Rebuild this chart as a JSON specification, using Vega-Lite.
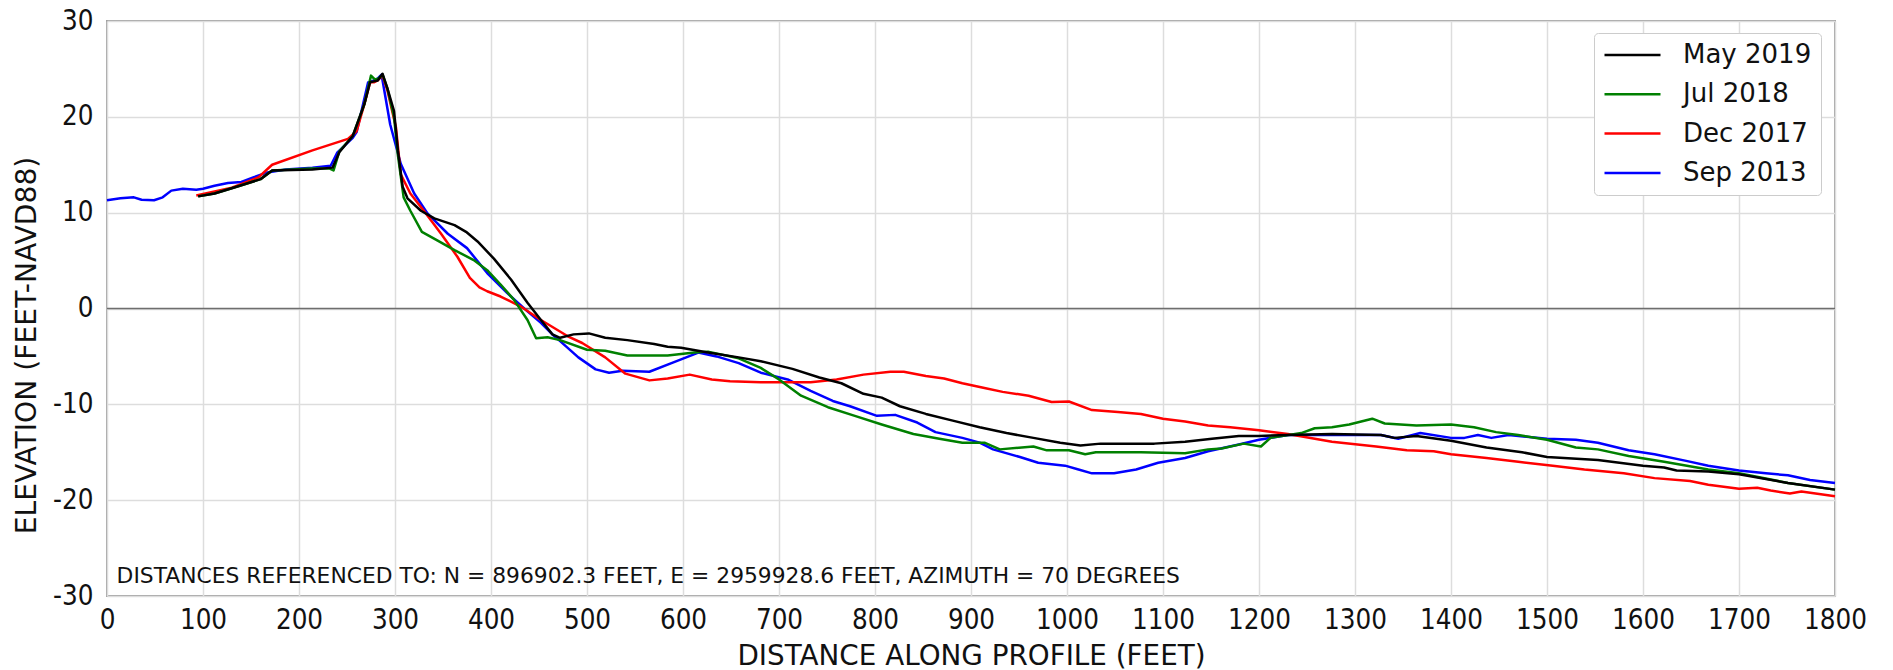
{
  "$schema": "https://vega.github.io/schema/vega-lite/v6.json",
  "autosize": {"type": "none"},
  "padding": {"left": 107, "top": 21, "right": 58, "bottom": 74},
  "width": 1728,
  "height": 575,
  "background": "white",
  "title": {"text": "Profile View", "font": "DejaVu Sans", "fontSize": 22, "fontWeight": "bold", "color": "#000000", "anchor": "middle", "frame": "group", "baseline": "alphabetic", "offset": 16},
  "config": {
    "view": {"stroke": "#a0a0a0", "strokeWidth": 2},
    "axis": {
      "grid": true, "gridColor": "#dddddd", "gridWidth": 1.5,
      "domain": false, "ticks": false,
      "labelFont": "DejaVu Sans Condensed, Liberation Sans, sans-serif", "labelFontSize": 27.5, "labelColor": "#111111",
      "titleFont": "DejaVu Sans", "titleFontSize": 27.8, "titleFontWeight": "normal", "titleColor": "#111111",
      "labelFlush": false, "labelOverlap": false
    },
    "legend": {
      "orient": "none", "legendX": 1487, "legendY": 12, "title": null,
      "labelFont": "DejaVu Sans", "labelFontSize": 26, "labelColor": "#111111",
      "symbolType": "stroke", "symbolSize": 3136, "symbolStrokeWidth": 2.5,
      "clipHeight": 26,
      "padding": 9, "rowPadding": 13.3, "labelOffset": 21,
      "strokeColor": "#cccccc", "fillColor": "#ffffff", "cornerRadius": 4, "labelLimit": 400
    }
  },
  "layer": [
    {
      "data": {"values": [{"e": 0}]},
      "mark": {"type": "rule", "color": "#6e6e6e", "strokeWidth": 1.5},
      "encoding": {"y": {"field": "e", "type": "quantitative", "scale": {"domain": [-30, 30], "nice": false}}}
    },
    {
      "data": {"values": [
        {"s":"Sep 2013","d":0,"e":11.3},{"s":"Sep 2013","d":14,"e":11.5},{"s":"Sep 2013","d":28,"e":11.6},{"s":"Sep 2013","d":36,"e":11.35},{"s":"Sep 2013","d":49,"e":11.3},{"s":"Sep 2013","d":58,"e":11.6},{"s":"Sep 2013","d":67,"e":12.3},{"s":"Sep 2013","d":79,"e":12.5},{"s":"Sep 2013","d":93,"e":12.4},{"s":"Sep 2013","d":100,"e":12.5},{"s":"Sep 2013","d":112,"e":12.8},{"s":"Sep 2013","d":126,"e":13.1},{"s":"Sep 2013","d":140,"e":13.2},{"s":"Sep 2013","d":153,"e":13.7},{"s":"Sep 2013","d":167,"e":14.2},{"s":"Sep 2013","d":186,"e":14.5},{"s":"Sep 2013","d":214,"e":14.7},{"s":"Sep 2013","d":233,"e":14.9},{"s":"Sep 2013","d":240,"e":16.3},{"s":"Sep 2013","d":256,"e":17.8},{"s":"Sep 2013","d":260,"e":18.4},{"s":"Sep 2013","d":272,"e":23.6},{"s":"Sep 2013","d":281,"e":23.9},{"s":"Sep 2013","d":286,"e":24.4},{"s":"Sep 2013","d":295,"e":19.2},{"s":"Sep 2013","d":306,"e":15.1},{"s":"Sep 2013","d":320,"e":12.0},{"s":"Sep 2013","d":334,"e":9.9},{"s":"Sep 2013","d":355,"e":7.8},{"s":"Sep 2013","d":375,"e":6.3},{"s":"Sep 2013","d":396,"e":3.7},{"s":"Sep 2013","d":417,"e":1.6},{"s":"Sep 2013","d":438,"e":-0.3},{"s":"Sep 2013","d":452,"e":-1.5},{"s":"Sep 2013","d":466,"e":-2.9},{"s":"Sep 2013","d":472,"e":-3.4},{"s":"Sep 2013","d":491,"e":-5.1},{"s":"Sep 2013","d":509,"e":-6.35},{"s":"Sep 2013","d":523,"e":-6.7},{"s":"Sep 2013","d":537,"e":-6.5},{"s":"Sep 2013","d":565,"e":-6.6},{"s":"Sep 2013","d":588,"e":-5.7},{"s":"Sep 2013","d":616,"e":-4.6},{"s":"Sep 2013","d":635,"e":-5.0},{"s":"Sep 2013","d":658,"e":-5.7},{"s":"Sep 2013","d":681,"e":-6.7},{"s":"Sep 2013","d":709,"e":-7.4},{"s":"Sep 2013","d":733,"e":-8.6},{"s":"Sep 2013","d":756,"e":-9.65},{"s":"Sep 2013","d":774,"e":-10.2},{"s":"Sep 2013","d":802,"e":-11.2},{"s":"Sep 2013","d":821,"e":-11.1},{"s":"Sep 2013","d":844,"e":-11.9},{"s":"Sep 2013","d":863,"e":-12.9},{"s":"Sep 2013","d":891,"e":-13.5},{"s":"Sep 2013","d":909,"e":-14.0},{"s":"Sep 2013","d":923,"e":-14.7},{"s":"Sep 2013","d":951,"e":-15.5},{"s":"Sep 2013","d":970,"e":-16.1},{"s":"Sep 2013","d":998,"e":-16.4},{"s":"Sep 2013","d":1012,"e":-16.8},{"s":"Sep 2013","d":1026,"e":-17.2},{"s":"Sep 2013","d":1049,"e":-17.2},{"s":"Sep 2013","d":1072,"e":-16.8},{"s":"Sep 2013","d":1095,"e":-16.1},{"s":"Sep 2013","d":1123,"e":-15.6},{"s":"Sep 2013","d":1147,"e":-14.9},{"s":"Sep 2013","d":1179,"e":-14.2},{"s":"Sep 2013","d":1200,"e":-13.7},{"s":"Sep 2013","d":1230,"e":-13.2},{"s":"Sep 2013","d":1276,"e":-13.2},{"s":"Sep 2013","d":1327,"e":-13.2},{"s":"Sep 2013","d":1345,"e":-13.6},{"s":"Sep 2013","d":1368,"e":-13.0},{"s":"Sep 2013","d":1400,"e":-13.5},{"s":"Sep 2013","d":1414,"e":-13.5},{"s":"Sep 2013","d":1428,"e":-13.2},{"s":"Sep 2013","d":1442,"e":-13.5},{"s":"Sep 2013","d":1460,"e":-13.2},{"s":"Sep 2013","d":1500,"e":-13.6},{"s":"Sep 2013","d":1530,"e":-13.7},{"s":"Sep 2013","d":1553,"e":-14.0},{"s":"Sep 2013","d":1585,"e":-14.8},{"s":"Sep 2013","d":1612,"e":-15.2},{"s":"Sep 2013","d":1645,"e":-15.9},{"s":"Sep 2013","d":1668,"e":-16.4},{"s":"Sep 2013","d":1700,"e":-16.9},{"s":"Sep 2013","d":1728,"e":-17.2},{"s":"Sep 2013","d":1751,"e":-17.4},{"s":"Sep 2013","d":1774,"e":-17.9},{"s":"Sep 2013","d":1800,"e":-18.2},

        {"s":"Dec 2017","d":93,"e":11.8},{"s":"Dec 2017","d":112,"e":12.2},{"s":"Dec 2017","d":130,"e":12.6},{"s":"Dec 2017","d":158,"e":13.7},{"s":"Dec 2017","d":172,"e":15.0},{"s":"Dec 2017","d":214,"e":16.5},{"s":"Dec 2017","d":251,"e":17.7},{"s":"Dec 2017","d":260,"e":18.5},{"s":"Dec 2017","d":268,"e":21.3},{"s":"Dec 2017","d":274,"e":23.6},{"s":"Dec 2017","d":278,"e":23.6},{"s":"Dec 2017","d":282,"e":23.8},{"s":"Dec 2017","d":287,"e":24.3},{"s":"Dec 2017","d":292,"e":22.8},{"s":"Dec 2017","d":301,"e":18.9},{"s":"Dec 2017","d":306,"e":14.0},{"s":"Dec 2017","d":316,"e":12.0},{"s":"Dec 2017","d":330,"e":10.2},{"s":"Dec 2017","d":348,"e":7.8},{"s":"Dec 2017","d":365,"e":5.4},{"s":"Dec 2017","d":378,"e":3.2},{"s":"Dec 2017","d":388,"e":2.2},{"s":"Dec 2017","d":396,"e":1.8},{"s":"Dec 2017","d":410,"e":1.25},{"s":"Dec 2017","d":431,"e":0.2},{"s":"Dec 2017","d":452,"e":-1.2},{"s":"Dec 2017","d":480,"e":-2.9},{"s":"Dec 2017","d":495,"e":-3.6},{"s":"Dec 2017","d":519,"e":-5.1},{"s":"Dec 2017","d":540,"e":-6.8},{"s":"Dec 2017","d":565,"e":-7.5},{"s":"Dec 2017","d":584,"e":-7.3},{"s":"Dec 2017","d":607,"e":-6.9},{"s":"Dec 2017","d":630,"e":-7.4},{"s":"Dec 2017","d":649,"e":-7.6},{"s":"Dec 2017","d":681,"e":-7.7},{"s":"Dec 2017","d":714,"e":-7.7},{"s":"Dec 2017","d":733,"e":-7.7},{"s":"Dec 2017","d":760,"e":-7.4},{"s":"Dec 2017","d":788,"e":-6.9},{"s":"Dec 2017","d":816,"e":-6.6},{"s":"Dec 2017","d":830,"e":-6.6},{"s":"Dec 2017","d":853,"e":-7.05},{"s":"Dec 2017","d":872,"e":-7.3},{"s":"Dec 2017","d":891,"e":-7.8},{"s":"Dec 2017","d":914,"e":-8.3},{"s":"Dec 2017","d":933,"e":-8.7},{"s":"Dec 2017","d":960,"e":-9.1},{"s":"Dec 2017","d":984,"e":-9.75},{"s":"Dec 2017","d":1002,"e":-9.7},{"s":"Dec 2017","d":1026,"e":-10.6},{"s":"Dec 2017","d":1053,"e":-10.8},{"s":"Dec 2017","d":1077,"e":-11.0},{"s":"Dec 2017","d":1100,"e":-11.5},{"s":"Dec 2017","d":1123,"e":-11.8},{"s":"Dec 2017","d":1147,"e":-12.2},{"s":"Dec 2017","d":1170,"e":-12.4},{"s":"Dec 2017","d":1200,"e":-12.7},{"s":"Dec 2017","d":1230,"e":-13.1},{"s":"Dec 2017","d":1276,"e":-13.9},{"s":"Dec 2017","d":1322,"e":-14.4},{"s":"Dec 2017","d":1354,"e":-14.8},{"s":"Dec 2017","d":1382,"e":-14.9},{"s":"Dec 2017","d":1400,"e":-15.2},{"s":"Dec 2017","d":1437,"e":-15.6},{"s":"Dec 2017","d":1470,"e":-16.0},{"s":"Dec 2017","d":1506,"e":-16.4},{"s":"Dec 2017","d":1539,"e":-16.8},{"s":"Dec 2017","d":1580,"e":-17.2},{"s":"Dec 2017","d":1612,"e":-17.7},{"s":"Dec 2017","d":1649,"e":-18.0},{"s":"Dec 2017","d":1668,"e":-18.4},{"s":"Dec 2017","d":1700,"e":-18.8},{"s":"Dec 2017","d":1719,"e":-18.7},{"s":"Dec 2017","d":1733,"e":-19.0},{"s":"Dec 2017","d":1753,"e":-19.3},{"s":"Dec 2017","d":1765,"e":-19.1},{"s":"Dec 2017","d":1800,"e":-19.6},

        {"s":"Jul 2018","d":95,"e":11.7},{"s":"Jul 2018","d":112,"e":12.0},{"s":"Jul 2018","d":135,"e":12.7},{"s":"Jul 2018","d":160,"e":13.5},{"s":"Jul 2018","d":172,"e":14.4},{"s":"Jul 2018","d":214,"e":14.6},{"s":"Jul 2018","d":232,"e":14.6},{"s":"Jul 2018","d":236,"e":14.4},{"s":"Jul 2018","d":242,"e":16.4},{"s":"Jul 2018","d":256,"e":18.0},{"s":"Jul 2018","d":268,"e":21.3},{"s":"Jul 2018","d":275,"e":24.3},{"s":"Jul 2018","d":279,"e":23.9},{"s":"Jul 2018","d":283,"e":24.0},{"s":"Jul 2018","d":287,"e":24.4},{"s":"Jul 2018","d":292,"e":23.0},{"s":"Jul 2018","d":299,"e":20.0},{"s":"Jul 2018","d":303,"e":16.0},{"s":"Jul 2018","d":309,"e":11.6},{"s":"Jul 2018","d":316,"e":10.2},{"s":"Jul 2018","d":328,"e":8.0},{"s":"Jul 2018","d":344,"e":7.1},{"s":"Jul 2018","d":362,"e":6.1},{"s":"Jul 2018","d":382,"e":5.05},{"s":"Jul 2018","d":396,"e":4.0},{"s":"Jul 2018","d":410,"e":2.5},{"s":"Jul 2018","d":424,"e":0.9},{"s":"Jul 2018","d":438,"e":-1.2},{"s":"Jul 2018","d":447,"e":-3.1},{"s":"Jul 2018","d":459,"e":-3.0},{"s":"Jul 2018","d":472,"e":-3.3},{"s":"Jul 2018","d":500,"e":-4.3},{"s":"Jul 2018","d":519,"e":-4.4},{"s":"Jul 2018","d":542,"e":-4.9},{"s":"Jul 2018","d":584,"e":-4.9},{"s":"Jul 2018","d":612,"e":-4.6},{"s":"Jul 2018","d":626,"e":-4.5},{"s":"Jul 2018","d":658,"e":-5.2},{"s":"Jul 2018","d":681,"e":-6.2},{"s":"Jul 2018","d":700,"e":-7.4},{"s":"Jul 2018","d":723,"e":-9.1},{"s":"Jul 2018","d":751,"e":-10.3},{"s":"Jul 2018","d":779,"e":-11.2},{"s":"Jul 2018","d":807,"e":-12.1},{"s":"Jul 2018","d":840,"e":-13.1},{"s":"Jul 2018","d":867,"e":-13.6},{"s":"Jul 2018","d":891,"e":-14.0},{"s":"Jul 2018","d":914,"e":-14.0},{"s":"Jul 2018","d":930,"e":-14.7},{"s":"Jul 2018","d":965,"e":-14.4},{"s":"Jul 2018","d":979,"e":-14.8},{"s":"Jul 2018","d":1002,"e":-14.8},{"s":"Jul 2018","d":1019,"e":-15.2},{"s":"Jul 2018","d":1030,"e":-15.0},{"s":"Jul 2018","d":1077,"e":-15.0},{"s":"Jul 2018","d":1123,"e":-15.1},{"s":"Jul 2018","d":1147,"e":-14.7},{"s":"Jul 2018","d":1161,"e":-14.6},{"s":"Jul 2018","d":1184,"e":-14.1},{"s":"Jul 2018","d":1202,"e":-14.4},{"s":"Jul 2018","d":1212,"e":-13.5},{"s":"Jul 2018","d":1244,"e":-13.0},{"s":"Jul 2018","d":1258,"e":-12.5},{"s":"Jul 2018","d":1276,"e":-12.4},{"s":"Jul 2018","d":1294,"e":-12.1},{"s":"Jul 2018","d":1318,"e":-11.5},{"s":"Jul 2018","d":1331,"e":-12.0},{"s":"Jul 2018","d":1364,"e":-12.2},{"s":"Jul 2018","d":1400,"e":-12.1},{"s":"Jul 2018","d":1424,"e":-12.4},{"s":"Jul 2018","d":1447,"e":-12.9},{"s":"Jul 2018","d":1470,"e":-13.2},{"s":"Jul 2018","d":1500,"e":-13.7},{"s":"Jul 2018","d":1530,"e":-14.5},{"s":"Jul 2018","d":1553,"e":-14.7},{"s":"Jul 2018","d":1585,"e":-15.4},{"s":"Jul 2018","d":1622,"e":-16.0},{"s":"Jul 2018","d":1668,"e":-16.8},{"s":"Jul 2018","d":1700,"e":-17.2},{"s":"Jul 2018","d":1751,"e":-18.2},{"s":"Jul 2018","d":1800,"e":-18.9},

        {"s":"May 2019","d":95,"e":11.7},{"s":"May 2019","d":112,"e":12.0},{"s":"May 2019","d":135,"e":12.7},{"s":"May 2019","d":160,"e":13.5},{"s":"May 2019","d":172,"e":14.4},{"s":"May 2019","d":214,"e":14.5},{"s":"May 2019","d":235,"e":14.7},{"s":"May 2019","d":242,"e":16.3},{"s":"May 2019","d":256,"e":18.0},{"s":"May 2019","d":268,"e":21.3},{"s":"May 2019","d":274,"e":23.6},{"s":"May 2019","d":278,"e":23.7},{"s":"May 2019","d":282,"e":23.8},{"s":"May 2019","d":287,"e":24.5},{"s":"May 2019","d":292,"e":23.0},{"s":"May 2019","d":299,"e":20.6},{"s":"May 2019","d":303,"e":16.5},{"s":"May 2019","d":308,"e":12.7},{"s":"May 2019","d":313,"e":11.5},{"s":"May 2019","d":327,"e":10.2},{"s":"May 2019","d":341,"e":9.4},{"s":"May 2019","d":362,"e":8.7},{"s":"May 2019","d":374,"e":8.0},{"s":"May 2019","d":386,"e":7.0},{"s":"May 2019","d":403,"e":5.2},{"s":"May 2019","d":421,"e":3.0},{"s":"May 2019","d":438,"e":0.6},{"s":"May 2019","d":452,"e":-1.2},{"s":"May 2019","d":464,"e":-2.7},{"s":"May 2019","d":472,"e":-3.06},{"s":"May 2019","d":486,"e":-2.7},{"s":"May 2019","d":502,"e":-2.6},{"s":"May 2019","d":519,"e":-3.06},{"s":"May 2019","d":542,"e":-3.3},{"s":"May 2019","d":570,"e":-3.7},{"s":"May 2019","d":584,"e":-4.0},{"s":"May 2019","d":598,"e":-4.1},{"s":"May 2019","d":626,"e":-4.6},{"s":"May 2019","d":658,"e":-5.1},{"s":"May 2019","d":681,"e":-5.5},{"s":"May 2019","d":714,"e":-6.3},{"s":"May 2019","d":742,"e":-7.2},{"s":"May 2019","d":765,"e":-7.8},{"s":"May 2019","d":788,"e":-8.9},{"s":"May 2019","d":807,"e":-9.3},{"s":"May 2019","d":826,"e":-10.2},{"s":"May 2019","d":853,"e":-11.0},{"s":"May 2019","d":881,"e":-11.7},{"s":"May 2019","d":909,"e":-12.4},{"s":"May 2019","d":937,"e":-13.0},{"s":"May 2019","d":965,"e":-13.5},{"s":"May 2019","d":993,"e":-14.0},{"s":"May 2019","d":1014,"e":-14.3},{"s":"May 2019","d":1035,"e":-14.1},{"s":"May 2019","d":1091,"e":-14.1},{"s":"May 2019","d":1123,"e":-13.9},{"s":"May 2019","d":1151,"e":-13.6},{"s":"May 2019","d":1179,"e":-13.3},{"s":"May 2019","d":1200,"e":-13.3},{"s":"May 2019","d":1230,"e":-13.2},{"s":"May 2019","d":1276,"e":-13.1},{"s":"May 2019","d":1327,"e":-13.2},{"s":"May 2019","d":1341,"e":-13.5},{"s":"May 2019","d":1364,"e":-13.3},{"s":"May 2019","d":1400,"e":-13.8},{"s":"May 2019","d":1437,"e":-14.5},{"s":"May 2019","d":1474,"e":-15.0},{"s":"May 2019","d":1500,"e":-15.5},{"s":"May 2019","d":1553,"e":-15.8},{"s":"May 2019","d":1600,"e":-16.4},{"s":"May 2019","d":1622,"e":-16.6},{"s":"May 2019","d":1635,"e":-16.9},{"s":"May 2019","d":1668,"e":-17.0},{"s":"May 2019","d":1700,"e":-17.3},{"s":"May 2019","d":1751,"e":-18.2},{"s":"May 2019","d":1800,"e":-18.9}
      ]},
      "mark": {"type": "line", "strokeWidth": 2.5, "strokeJoin": "round"},
      "encoding": {
        "x": {"field": "d", "type": "quantitative", "scale": {"domain": [0, 1800], "nice": false},
              "axis": {"values": [0,100,200,300,400,500,600,700,800,900,1000,1100,1200,1300,1400,1500,1600,1700,1800], "labelPadding": 10, "title": "DISTANCE ALONG PROFILE (FEET)", "titlePadding": 9, "labelExpr": "'' + datum.value"}},
        "y": {"field": "e", "type": "quantitative", "scale": {"domain": [-30, 30], "nice": false},
              "axis": {"values": [-30,-20,-10,0,10,20,30], "labelPadding": 14, "title": "ELEVATION (FEET-NAVD88)", "titleFontSize": 28.2, "titlePadding": 11, "titleY": 324, "labelExpr": "'' + datum.value"}},
        "color": {"field": "s", "type": "nominal",
                  "scale": {"domain": ["May 2019", "Jul 2018", "Dec 2017", "Sep 2013"], "range": ["#000000", "#008000", "#ff0000", "#0000ff"]},
                  "legend": {"title": null}}
      }
    },
    {
      "data": {"values": [{"d": 10, "e": -28.6, "label": "DISTANCES REFERENCED TO: N = 896902.3 FEET, E = 2959928.6 FEET, AZIMUTH = 70 DEGREES"}]},
      "mark": {"type": "text", "font": "DejaVu Sans", "fontSize": 21.8, "color": "#111111", "align": "left", "baseline": "alphabetic"},
      "encoding": {
        "x": {"field": "d", "type": "quantitative"},
        "y": {"field": "e", "type": "quantitative"},
        "text": {"field": "label"}
      }
    }
  ]
}
